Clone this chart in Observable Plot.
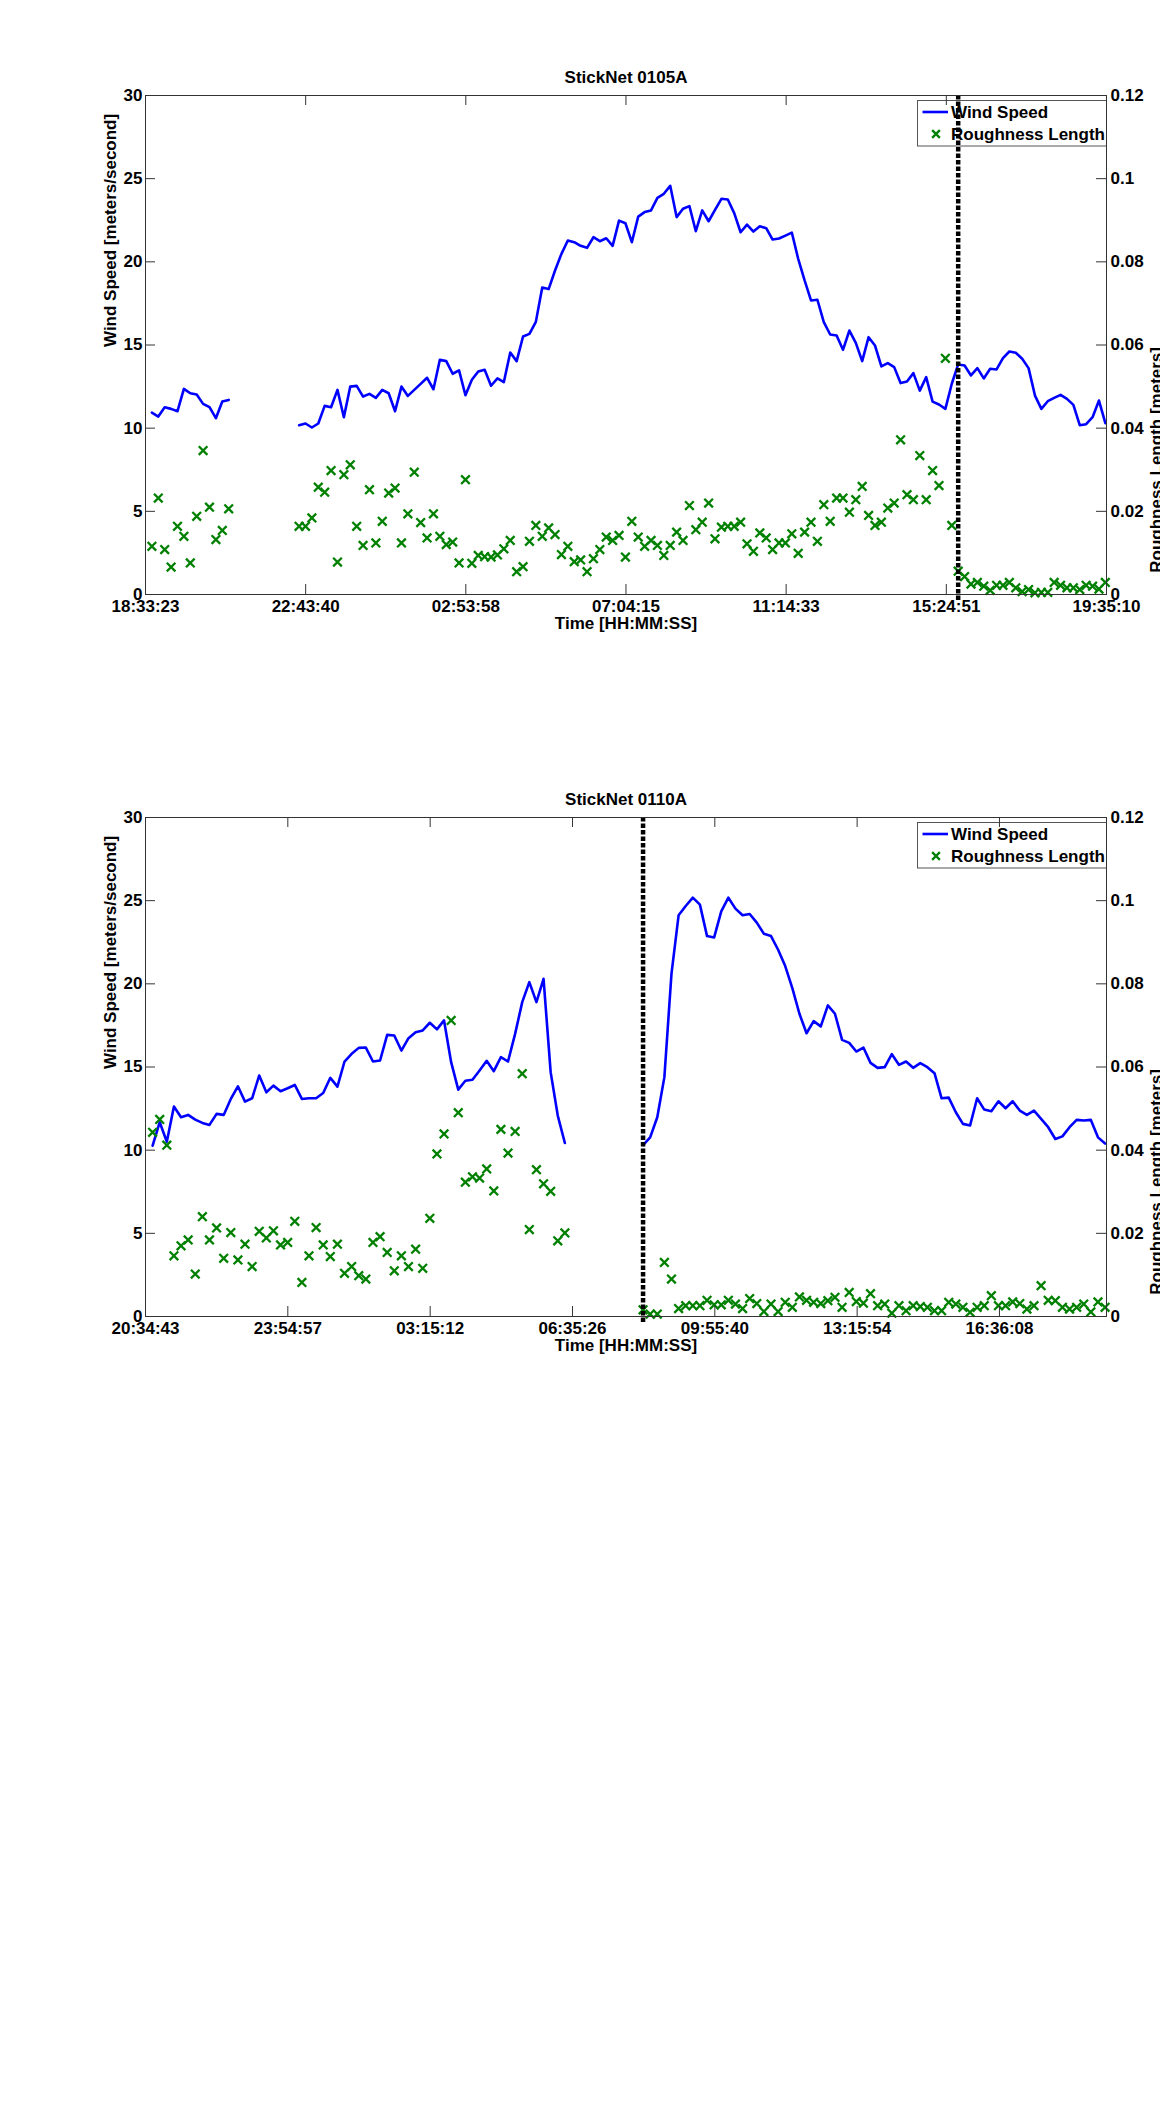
<!DOCTYPE html>
<html>
<head>
<meta charset="utf-8">
<script src="https://cdn.jsdelivr.net/npm/d3@7"></script>
<script src="https://cdn.jsdelivr.net/npm/@observablehq/plot@0.6"></script>
<style>
  html, body { margin: 0; padding: 0; background: #ffffff; }
  body { width: 1160px; height: 2114px; overflow: hidden; font-family: "Liberation Sans", Arial, sans-serif; }
  #root svg { display: block; }
</style>
</head>
<body>
<div id="root"></div>
<script>
// ---------------- DATA ----------------
const xAxisLabel = "Time [HH:MM:SS]";
const yLeftLabel = "Wind Speed [meters/second]";
const yRightLabel = "Roughness Length [meters]";
const legendLabels = ["Wind Speed", "Roughness Length"];

const windTicks = [0, 5, 10, 15, 20, 25, 30];
const windTickLabels = ["0", "5", "10", "15", "20", "25", "30"];
const roughTicks = [0, 0.02, 0.04, 0.06, 0.08, 0.1, 0.12];
const roughTickLabels = ["0", "0.02", "0.04", "0.06", "0.08", "0.1", "0.12"];
const windMax = 30;
const roughMax = 0.12;
const sampleMinutes = 10; // one sample every 10 minutes, first sample 10 min after axis start

// ---- StickNet 0105A ----
const title1 = "StickNet 0105A";
const timeTicks1 = ["18:33:23", "22:43:40", "02:53:58", "07:04:15", "11:14:33", "15:24:51", "19:35:10"];
const axisEnd1 = "19:35:10";
const eventSample1 = 127;
const wind1 = [
  10.94,10.70,11.26,11.16,11.02,12.36,12.10,12.02,11.46,11.26,
  10.60,11.60,11.70,null,null,null,null,null,null,null,
  null,null,null,10.18,10.28,10.04,10.28,11.34,11.26,12.30,
  10.66,12.50,12.54,11.90,12.06,11.82,12.30,12.10,11.02,12.50,
  11.94,12.30,12.66,13.03,12.34,14.11,14.03,13.27,13.47,11.98,
  12.91,13.41,13.51,12.55,12.99,12.77,14.55,14.03,15.51,15.67,
  16.39,18.46,18.36,19.48,20.48,21.28,21.18,20.96,20.84,21.48,
  21.24,21.42,20.96,22.48,22.32,21.18,22.72,22.99,23.09,23.85,
  24.09,24.57,22.69,23.19,23.35,21.84,23.09,22.44,23.13,23.79,
  23.75,22.93,21.78,22.24,21.82,22.14,22.02,21.34,21.40,21.58,
  21.76,20.18,18.88,17.68,17.72,16.37,15.63,15.57,14.71,15.87,
  15.13,14.03,15.47,14.97,13.71,13.91,13.67,12.71,12.81,13.31,
  12.26,13.07,11.60,11.42,11.16,12.67,13.83,13.77,13.17,13.61,
  12.99,13.57,13.53,14.21,14.61,14.53,14.17,13.61,11.96,11.16,
  11.62,11.82,12.00,11.76,11.40,10.18,10.24,10.66,11.66,10.30
];
const rough1 = [
  0.0116,0.0232,0.0108,0.0066,0.0164,0.0140,0.0076,0.0188,0.0346,0.0210,
  0.0132,0.0154,0.0206,null,null,null,null,null,null,null,
  null,null,null,0.0164,0.0164,0.0184,0.0258,0.0246,0.0298,0.0078,
  0.0288,0.0312,0.0164,0.0118,0.0252,0.0124,0.0176,0.0244,0.0256,0.0124,
  0.0194,0.0294,0.0173,0.0136,0.0194,0.0140,0.0120,0.0126,0.0076,0.0276,
  0.0075,0.0094,0.0091,0.0090,0.0095,0.0110,0.0130,0.0055,0.0067,0.0128,
  0.0166,0.0140,0.0160,0.0144,0.0096,0.0116,0.0079,0.0083,0.0055,0.0086,
  0.0108,0.0138,0.0130,0.0142,0.0090,0.0176,0.0138,0.0116,0.0130,0.0118,
  0.0094,0.0118,0.0150,0.0130,0.0214,0.0156,0.0174,0.0220,0.0134,0.0162,
  0.0164,0.0164,0.0174,0.0122,0.0104,0.0148,0.0136,0.0108,0.0124,0.0124,
  0.0146,0.0099,0.0150,0.0174,0.0128,0.0216,0.0176,0.0232,0.0232,0.0198,
  0.0228,0.0260,0.0190,0.0166,0.0174,0.0208,0.0220,0.0372,0.0240,0.0228,
  0.0334,0.0228,0.0298,0.0262,0.0568,0.0166,0.0056,0.0043,0.0025,0.0029,
  0.0020,0.0010,0.0022,0.0022,0.0029,0.0016,0.0007,0.0012,0.0004,0.0005,
  0.0005,0.0029,0.0022,0.0016,0.0016,0.0012,0.0022,0.0020,0.0013,0.0029
];

// ---- StickNet 0110A ----
const title2 = "StickNet 0110A";
const timeTicks2 = ["20:34:43", "23:54:57", "03:15:12", "06:35:26", "09:55:40", "13:15:54", "16:36:08"];
const axisEnd2 = "19:06:43";
const eventSample2 = 70;
const wind2 = [
  10.27,11.68,10.51,12.62,11.98,12.12,11.84,11.64,11.52,12.18,
  12.12,13.08,13.84,12.92,13.12,14.49,13.48,13.88,13.54,13.72,
  13.92,13.08,13.12,13.12,13.44,14.35,13.82,15.33,15.79,16.15,
  16.17,15.33,15.39,16.93,16.89,15.99,16.73,17.09,17.20,17.66,
  17.26,17.80,15.29,13.64,14.17,14.23,14.79,15.37,14.75,15.59,
  15.33,16.99,18.90,20.10,18.90,20.30,14.69,12.08,10.43,null,
  null,null,null,null,null,null,null,null,null,10.31,
  10.77,11.98,14.39,20.61,24.12,24.68,25.18,24.76,22.87,22.79,
  24.36,25.18,24.52,24.12,24.20,23.68,23.01,22.87,22.05,21.07,
  19.74,18.20,17.03,17.76,17.44,18.70,18.20,16.63,16.45,15.93,
  16.17,15.25,14.95,14.99,15.77,15.13,15.33,14.95,15.23,14.99,
  14.63,13.12,13.16,12.28,11.58,11.48,13.12,12.44,12.34,12.94,
  12.52,12.94,12.38,12.12,12.38,11.88,11.38,10.67,10.83,11.38,
  11.82,11.78,11.82,10.77,10.40
];
const rough2 = [
  0.0443,0.0474,0.0412,0.0146,0.0170,0.0184,0.0102,0.0240,0.0184,0.0213,
  0.0140,0.0202,0.0136,0.0174,0.0120,0.0205,0.0189,0.0206,0.0172,0.0178,
  0.0229,0.0082,0.0146,0.0214,0.0172,0.0144,0.0174,0.0104,0.0120,0.0098,
  0.0090,0.0178,0.0192,0.0154,0.0110,0.0146,0.0120,0.0162,0.0116,0.0236,
  0.0391,0.0439,0.0712,0.0490,0.0323,0.0336,0.0333,0.0355,0.0302,0.0450,
  0.0393,0.0445,0.0584,0.0209,0.0353,0.0319,0.0301,0.0182,0.0201,null,
  null,null,null,null,null,null,null,null,null,0.0016,
  0.0006,0.0006,0.0130,0.0090,0.0019,0.0026,0.0026,0.0026,0.0039,0.0028,
  0.0028,0.0039,0.0030,0.0019,0.0043,0.0031,0.0012,0.0030,0.0012,0.0034,
  0.0022,0.0047,0.0039,0.0034,0.0031,0.0038,0.0046,0.0022,0.0058,0.0036,
  0.0032,0.0055,0.0026,0.0030,0.0008,0.0026,0.0014,0.0026,0.0024,0.0022,
  0.0014,0.0014,0.0034,0.0030,0.0022,0.0010,0.0022,0.0026,0.0050,0.0026,
  0.0026,0.0035,0.0031,0.0018,0.0026,0.0074,0.0039,0.0038,0.0022,0.0018,
  0.0022,0.0030,0.0011,0.0035,0.0022
];

// ---------------- STYLE ----------------
const windColor = "#0000ff";
const roughColor = "#008000";
const axisColor = "#333333";
const markerR = 4;
const fontFamily = "'Liberation Sans', Arial, Helvetica, sans-serif";

// ---------------- HELPERS ----------------
function toSec(s) { const [h, m, x] = s.split(":").map(Number); return h * 3600 + m * 60 + x; }
function offsets(list) {
  let day = 0, prev = null, base = null;
  return list.map(s => {
    const v = toSec(s);
    if (prev !== null && v < prev) day++;
    prev = v;
    const abs = v + day * 86400;
    if (base === null) base = abs;
    return abs - base;
  });
}

function legendMark() {
  return (index, scales, values, dims) => {
    const right = dims.width - dims.marginRight;
    const top = dims.marginTop + 5;
    const w = 189, h = 45.5, left = right - w;
    const g = d3.create("svg:g").attr("font-size", 17).attr("font-weight", "bold")
      .attr("fill", "#000").attr("text-anchor", "start");
    g.append("rect").attr("x", left + 0.5).attr("y", top + 0.5).attr("width", w).attr("height", h)
      .attr("fill", "#ffffff").attr("stroke", "#555").attr("stroke-width", 1);
    g.append("line").attr("x1", left + 5.5).attr("x2", left + 31).attr("y1", top + 12).attr("y2", top + 12)
      .attr("stroke", windColor).attr("stroke-width", 2.6);
    g.append("text").attr("x", left + 34).attr("y", top + 17.5).text(legendLabels[0]);
    g.append("path").attr("transform", `translate(${left + 19},${top + 34})`)
      .attr("d", d3.symbol(d3.symbolTimes, 3.6 * 3.6 * Math.PI)())
      .attr("fill", "none").attr("stroke", roughColor).attr("stroke-width", 2.3);
    g.append("text").attr("x", left + 34).attr("y", top + 39.5).text(legendLabels[1]);
    return g.node();
  };
}

function makeChart({title, timeTicks, axisEnd, eventSample, wind, rough, marginTop, marginBottom, height}) {
  const secs = offsets([...timeTicks, axisEnd]);
  const end = secs[secs.length - 1];
  const tickSecs = secs.slice(0, timeTicks.length);
  const tickLab = new Map(tickSecs.map((s, i) => [s, timeTicks[i]]));
  const step = sampleMinutes * 60;
  const ratio = windMax / roughMax;
  const windData = wind.map((v, i) => ({t: (i + 1) * step, v}));
  const roughData = rough.map((r, i) => ({t: (i + 1) * step, r})).filter(d => d.r != null);
  const roughY = roughTicks.map(r => r * ratio);
  const roughLab = new Map(roughY.map((y, i) => [y, roughTickLabels[i]]));
  const windLab = new Map(windTicks.map((v, i) => [v, windTickLabels[i]]));
  const width = 1160, marginLeft = 145, marginRight = 54;
  const plotW = width - marginLeft - marginRight;
  const plotH = height - marginTop - marginBottom;
  const tl = 10;

  return Plot.plot({
    width, height, marginLeft, marginRight, marginTop, marginBottom,
    style: {fontFamily, fontSize: "17px", fontWeight: "bold", color: "#000", background: "#fff"},
    x: {type: "linear", domain: [0, end]},
    y: {type: "linear", domain: [0, windMax]},
    marks: [
      Plot.line(windData, {x: "t", y: "v", stroke: windColor, strokeWidth: 2.6, strokeLinejoin: "round"}),
      Plot.dot(roughData, {x: "t", y: d => d.r * ratio, symbol: "times", r: markerR, stroke: roughColor, strokeWidth: 2.3, fill: "none"}),
      legendMark(),
      Plot.ruleX([eventSample], {x: d => d * step, stroke: "#000", strokeWidth: 4.5, strokeDasharray: "4.5,2", insetBottom: -6}),
      Plot.frame({stroke: axisColor, strokeWidth: 1}),
      // inward ticks
      Plot.tickX(tickSecs, {x: d => d, insetTop: plotH - tl, stroke: axisColor}),
      Plot.tickX(tickSecs, {x: d => d, insetBottom: plotH - tl, stroke: axisColor}),
      Plot.tickY(windTicks, {y: d => d, insetRight: plotW - tl, stroke: axisColor}),
      Plot.tickY(roughY, {y: d => d, insetLeft: plotW - tl, stroke: axisColor}),
      // tick labels
      Plot.axisX(tickSecs, {anchor: "bottom", tickSize: 0, tickPadding: 5, tickFormat: d => tickLab.get(d), fontSize: 17, label: null}),
      Plot.axisY(windTicks, {anchor: "left", tickSize: 0, tickPadding: 3, tickFormat: d => windLab.get(d), fontSize: 17, label: null}),
      Plot.axisY(roughY, {anchor: "right", tickSize: 0, tickPadding: 4, tickFormat: d => roughLab.get(d), fontSize: 17, label: null}),
      // titles
      Plot.text([title], {frameAnchor: "top", lineAnchor: "bottom", dy: -12.5, fontSize: 17}),
      Plot.text([xAxisLabel], {frameAnchor: "bottom", lineAnchor: "bottom", dy: 34.5, fontSize: 17}),
      Plot.text([yLeftLabel], {frameAnchor: "left", rotate: -90, lineAnchor: "bottom", dx: -29.5, dy: 2, fontSize: 17}),
      Plot.text([yRightLabel], {frameAnchor: "right", rotate: -90, lineAnchor: "bottom", dx: 55, dy: 2, fontSize: 17})
    ]
  });
}

const root = document.getElementById("root");
root.appendChild(makeChart({
  title: title1, timeTicks: timeTicks1, axisEnd: axisEnd1, eventSample: eventSample1,
  wind: wind1, rough: rough1, marginTop: 95, marginBottom: 106, height: 700
}));
root.appendChild(makeChart({
  title: title2, timeTicks: timeTicks2, axisEnd: axisEnd2, eventSample: eventSample2,
  wind: wind2, rough: rough2, marginTop: 117, marginBottom: 84, height: 700
}));
</script>
</body>
</html>
